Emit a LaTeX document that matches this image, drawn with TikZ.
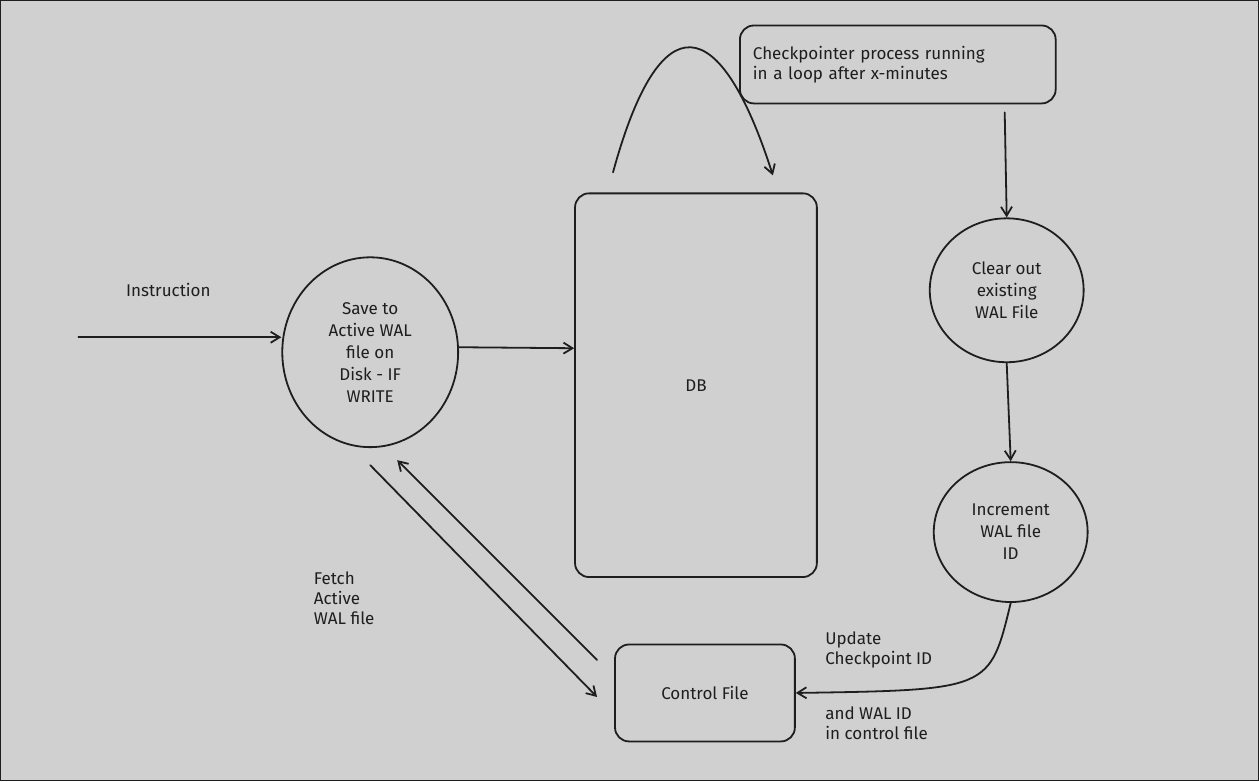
\documentclass[tikz,border=0pt]{standalone}
\usepackage{fontspec}
\setmainfont{Fira Sans}
\usetikzlibrary{arrows.meta,shapes.geometric}
\definecolor{bg}{HTML}{D0D0D0}
\definecolor{ink}{HTML}{1E1E1E}
\begin{document}
\begin{tikzpicture}[x=1pt,y=-1pt,
  line/.style={draw=ink,line width=1.8pt,line cap=round},
  arr/.style={line,-{Straight Barb[length=9pt,width=11pt]}},
  lbl/.style={font=\fontsize{17}{20}\selectfont,text=ink,align=left},
  ctr/.style={font=\fontsize{17}{22}\selectfont,text=ink,align=center},
  rbox/.style={line,rounded corners=14pt}]
\fill[bg,draw=ink,line width=1pt] (0,0) rectangle (1259,781);
\useasboundingbox (0,0) rectangle (1259,781);
% nodes
\node[lbl] (instr) at (168,290) {Instruction};
\coordinate (instart) at (78,337);
\node[ellipse,line,minimum width=176pt,minimum height=190pt,ctr,inner sep=0pt] (save) at (370,352) {Save to\\Active WAL\\file on\\Disk - IF\\WRITE};
\node[rbox,minimum width=242pt,minimum height=384pt,ctr] (db) at (696,385) {DB};
\node[rbox,minimum width=316pt,minimum height=78pt,lbl,text width=290pt] (chk) at (898,64) {Checkpointer process running\\in a loop after x-minutes};
\node[ellipse,line,minimum width=154pt,minimum height=144pt,ctr,inner sep=0pt] (clear) at (1007,290) {Clear out\\existing\\WAL File};
\node[ellipse,line,minimum width=154pt,minimum height=140pt,ctr,inner sep=0pt] (inc) at (1011,532) {Increment\\WAL file\\ID};
\node[rbox,minimum width=180pt,minimum height=97pt,ctr] (ctrl) at (705,693) {Control File};
\node[lbl,anchor=north west] (fetch) at (310,568) {Fetch\\Active\\WAL file};
\node[lbl,anchor=north west] (upd) at (822,628) {Update\\Checkpoint ID};
\node[lbl,anchor=north west] (andw) at (822,703) {and WAL ID\\in control file};
% connectors
\draw[arr] (instart) -- (save.west|-instart);
\draw[arr] (save.east|-0,347) -- (db.west|-0,348);
\draw[arr] (613,172) .. controls (660,0) and (720,10) .. (773,175);
\draw[arr] (1005,112) -- (clear.north);
\draw[arr] (clear.south) -- (inc.north);
\draw[arr] (inc.south) .. controls (990,690) .. (ctrl.east);
\draw[arr] (370,465) -- (597,697);
\draw[arr] (597,660) -- (397,460);
\end{tikzpicture}
\end{document}
